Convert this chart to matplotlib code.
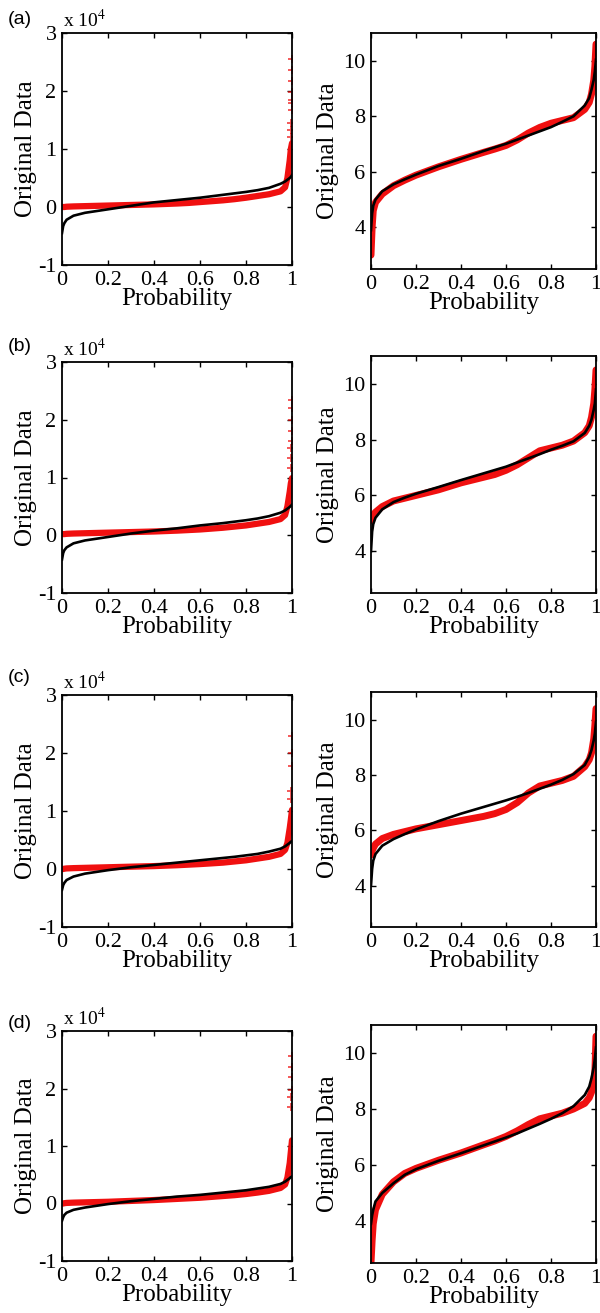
"""Probability plots of original data vs fitted distribution, four cases (a)-(d)."""

import matplotlib
matplotlib.use("Agg")
import matplotlib.pyplot as plt
from matplotlib.ticker import FixedLocator, FixedFormatter

plt.rcParams["font.family"] = ["Liberation Serif", "DejaVu Serif"]
plt.rcParams["mathtext.fontset"] = "stix"
plt.rcParams["axes.unicode_minus"] = False

# probability levels at which the curves were read
prob = [0, 0.005, 0.01, 0.02, 0.05, 0.1, 0.15, 0.2, 0.3, 0.4, 0.5, 0.55, 0.6, 0.65,
        0.7, 0.75, 0.8, 0.85, 0.9, 0.95, 0.97, 0.98, 0.99, 0.995, 1.0]

# left column, values in units of 1e4
left_red = {
    "a": [0.0, 0.0, 0.0, 0.005, 0.01, 0.015, 0.02, 0.025, 0.035, 0.045, 0.06, 0.07, 0.085,
          0.10, 0.115, 0.135, 0.16, 0.19, 0.22, 0.27, 0.34, 0.50, 0.80, 1.0, 1.1],
    "b": [0.02, 0.02, 0.02, 0.025, 0.03, 0.035, 0.04, 0.045, 0.055, 0.065, 0.08, 0.09, 0.10,
          0.115, 0.13, 0.15, 0.17, 0.20, 0.23, 0.28, 0.35, 0.50, 0.75, 0.9, 0.99],
    "c": [0.0, 0.0, 0.005, 0.01, 0.015, 0.02, 0.025, 0.03, 0.04, 0.05, 0.065, 0.075, 0.085,
          0.097, 0.11, 0.13, 0.15, 0.18, 0.21, 0.26, 0.33, 0.45, 0.70, 0.85, 1.02],
    "d": [0.0, 0.0, 0.005, 0.01, 0.015, 0.02, 0.025, 0.03, 0.045, 0.06, 0.08, 0.09, 0.10,
          0.115, 0.13, 0.145, 0.165, 0.19, 0.22, 0.27, 0.33, 0.45, 0.70, 0.90, 1.1],
}
left_black = {
    "a": [-0.45, -0.33, -0.28, -0.22, -0.15, -0.10, -0.07, -0.04, 0.02, 0.08, 0.12, 0.14,
          0.16, 0.185, 0.21, 0.235, 0.26, 0.29, 0.33, 0.40, 0.44, 0.47, 0.50, 0.52, 0.55],
    "b": [-0.42, -0.31, -0.26, -0.21, -0.14, -0.09, -0.06, -0.03, 0.03, 0.08, 0.12, 0.145,
          0.17, 0.19, 0.21, 0.235, 0.26, 0.29, 0.33, 0.39, 0.43, 0.46, 0.49, 0.51, 0.53],
    "c": [-0.36, -0.28, -0.24, -0.19, -0.13, -0.08, -0.05, -0.02, 0.03, 0.07, 0.11, 0.13,
          0.15, 0.17, 0.19, 0.21, 0.235, 0.26, 0.30, 0.35, 0.39, 0.42, 0.45, 0.47, 0.48],
    "d": [-0.30, -0.24, -0.20, -0.16, -0.11, -0.07, -0.04, -0.01, 0.04, 0.08, 0.12, 0.135,
          0.15, 0.17, 0.19, 0.21, 0.23, 0.26, 0.29, 0.34, 0.38, 0.41, 0.44, 0.46, 0.47],
}
# scattered top-tail points near probability 1
left_tail_prob = {
    "a": [0.996, 0.997, 0.997, 0.998, 0.998, 0.998, 0.999, 0.999, 1.0, 1.0],
    "b": [0.996, 0.997, 0.997, 0.998, 0.998, 0.999, 0.999, 1.0],
    "c": [0.996, 0.997, 0.998, 0.999, 1.0],
    "d": [0.996, 0.997, 0.998, 0.999, 0.999, 1.0],
}
left_tail = {
    "a": [1.21, 1.32, 1.44, 1.67, 1.79, 1.84, 1.99, 2.18, 2.36, 2.56],
    "b": [1.17, 1.34, 1.51, 1.63, 1.80, 2.00, 2.20, 2.34],
    "c": [1.20, 1.34, 1.77, 2.00, 2.29],
    "d": [1.68, 1.85, 1.97, 2.20, 2.37, 2.57],
}

right_red = {
    "a": [3.0, 4.0, 4.6, 4.9, 5.2, 5.5, 5.7, 5.88, 6.18, 6.45, 6.7, 6.82, 6.95, 7.15,
          7.4, 7.6, 7.75, 7.85, 7.95, 8.25, 8.5, 8.8, 9.3, 9.8, 10.6],
    "b": [5.1, 5.2, 5.3, 5.4, 5.6, 5.8, 5.9, 6.0, 6.2, 6.45, 6.65, 6.75, 6.9, 7.1,
          7.35, 7.6, 7.7, 7.8, 7.95, 8.25, 8.5, 8.8, 9.3, 9.8, 10.5],
    "c": [5.1, 5.25, 5.35, 5.5, 5.7, 5.85, 5.95, 6.05, 6.2, 6.35, 6.5, 6.6, 6.75, 7.0,
          7.35, 7.6, 7.7, 7.8, 7.95, 8.3, 8.55, 8.8, 9.3, 9.8, 10.4],
    "d": [2.5, 3.3, 3.9, 4.4, 4.95, 5.4, 5.7, 5.88, 6.17, 6.43, 6.72, 6.86, 7.02, 7.22,
          7.45, 7.65, 7.75, 7.85, 8.0, 8.2, 8.4, 8.6, 9.0, 9.3, 10.6],
}
right_black = {
    "a": [3.9, 4.5, 4.78, 5.0, 5.3, 5.55, 5.73, 5.9, 6.21, 6.47, 6.75, 6.88, 7.01, 7.16,
          7.31, 7.46, 7.61, 7.8, 8.0, 8.39, 8.66, 8.96, 9.32, 9.62, 10.04],
    "b": [4.0, 4.7, 4.97, 5.2, 5.5, 5.76, 5.92, 6.06, 6.3, 6.55, 6.79, 6.91, 7.03, 7.18,
          7.33, 7.48, 7.64, 7.78, 7.94, 8.24, 8.5, 8.72, 9.08, 9.3, 9.8],
    "c": [4.0, 4.6, 4.9, 5.14, 5.44, 5.68, 5.86, 6.03, 6.33, 6.6, 6.84, 6.96, 7.08, 7.21,
          7.35, 7.5, 7.65, 7.82, 8.03, 8.36, 8.66, 8.9, 9.26, 9.5, 9.92],
    "d": [3.9, 4.2, 4.4, 4.7, 5.0, 5.35, 5.65, 5.85, 6.15, 6.42, 6.7, 6.84, 6.98, 7.13,
          7.3, 7.47, 7.65, 7.85, 8.1, 8.5, 8.8, 9.1, 9.5, 9.8, 10.2],
}

panel_labels = ["(a)", "(b)", "(c)", "(d)"]
x_ticks = [0, 0.2, 0.4, 0.6, 0.8, 1.0]
x_tick_labels = ["0", "0.2", "0.4", "0.6", "0.8", "1"]
left_y_ticks = [-1, 0, 1, 2, 3]
left_y_labels = ["-1", "0", "1", "2", "3"]
right_y_ticks = [4, 6, 8, 10]
right_y_labels = ["4", "6", "8", "10"]

W, H = 600, 1313
# pixel boxes (top, bottom) for each row
left_rows = [(33, 265), (362, 593), (695, 927), (1031, 1261)]
right_rows = [(33, 269), (356, 593), (692, 927), (1025, 1263)]
label_y = [19, 347, 678, 1024]

RED = "#f01010"


def style(ax, yticks, ylabels, ylim, ylabelpad):
    ax.set_xlim(0, 1)
    ax.set_ylim(*ylim)
    ax.xaxis.set_major_locator(FixedLocator(x_ticks))
    ax.xaxis.set_major_formatter(FixedFormatter(x_tick_labels))
    ax.yaxis.set_major_locator(FixedLocator(yticks))
    ax.yaxis.set_major_formatter(FixedFormatter(ylabels))
    ax.tick_params(direction="in", top=True, right=True, length=3.5, width=1,
                   labelsize=16, pad=4)
    for sp in ax.spines.values():
        sp.set_linewidth(1.3)
    ax.set_xlabel("Probability", fontsize=18, labelpad=-1)
    ax.set_ylabel("Original Data", fontsize=18, labelpad=ylabelpad)


fig = plt.figure(figsize=(W / 100, H / 100), dpi=100)
for i, key in enumerate(["a", "b", "c", "d"]):
    top, bot = left_rows[i]
    ax = fig.add_axes([62 / W, 1 - bot / H, 230 / W, (bot - top) / H])
    ax.plot(prob, left_red[key], color=RED, lw=4.5, solid_capstyle="round", zorder=2)
    ax.plot(left_tail_prob[key], left_tail[key], "+", color=RED, ms=6, mew=1.3,
            alpha=0.75, zorder=2)
    ax.plot(prob, left_black[key], color="black", lw=1.9, zorder=3)
    style(ax, left_y_ticks, left_y_labels, (-1, 3), 1)
    ax.annotate("x 10$^{4}$", xy=(0, 1), xycoords="axes fraction", xytext=(1, 4),
                textcoords="offset points", ha="left", va="baseline", fontsize=14)
    fig.text(8 / W, 1 - label_y[i] / H, panel_labels[i], fontsize=14,
             family=["Liberation Sans", "DejaVu Sans"], va="center", ha="left")

    top, bot = right_rows[i]
    ax = fig.add_axes([371 / W, 1 - bot / H, 225 / W, (bot - top) / H])
    ax.plot(prob, right_red[key], color=RED, lw=5, solid_capstyle="round", zorder=2)
    ax.plot(prob, right_black[key], color="black", lw=1.9, zorder=3)
    style(ax, right_y_ticks, right_y_labels, (2.5, 11), 3)

fig.savefig("out.png", dpi=100)
